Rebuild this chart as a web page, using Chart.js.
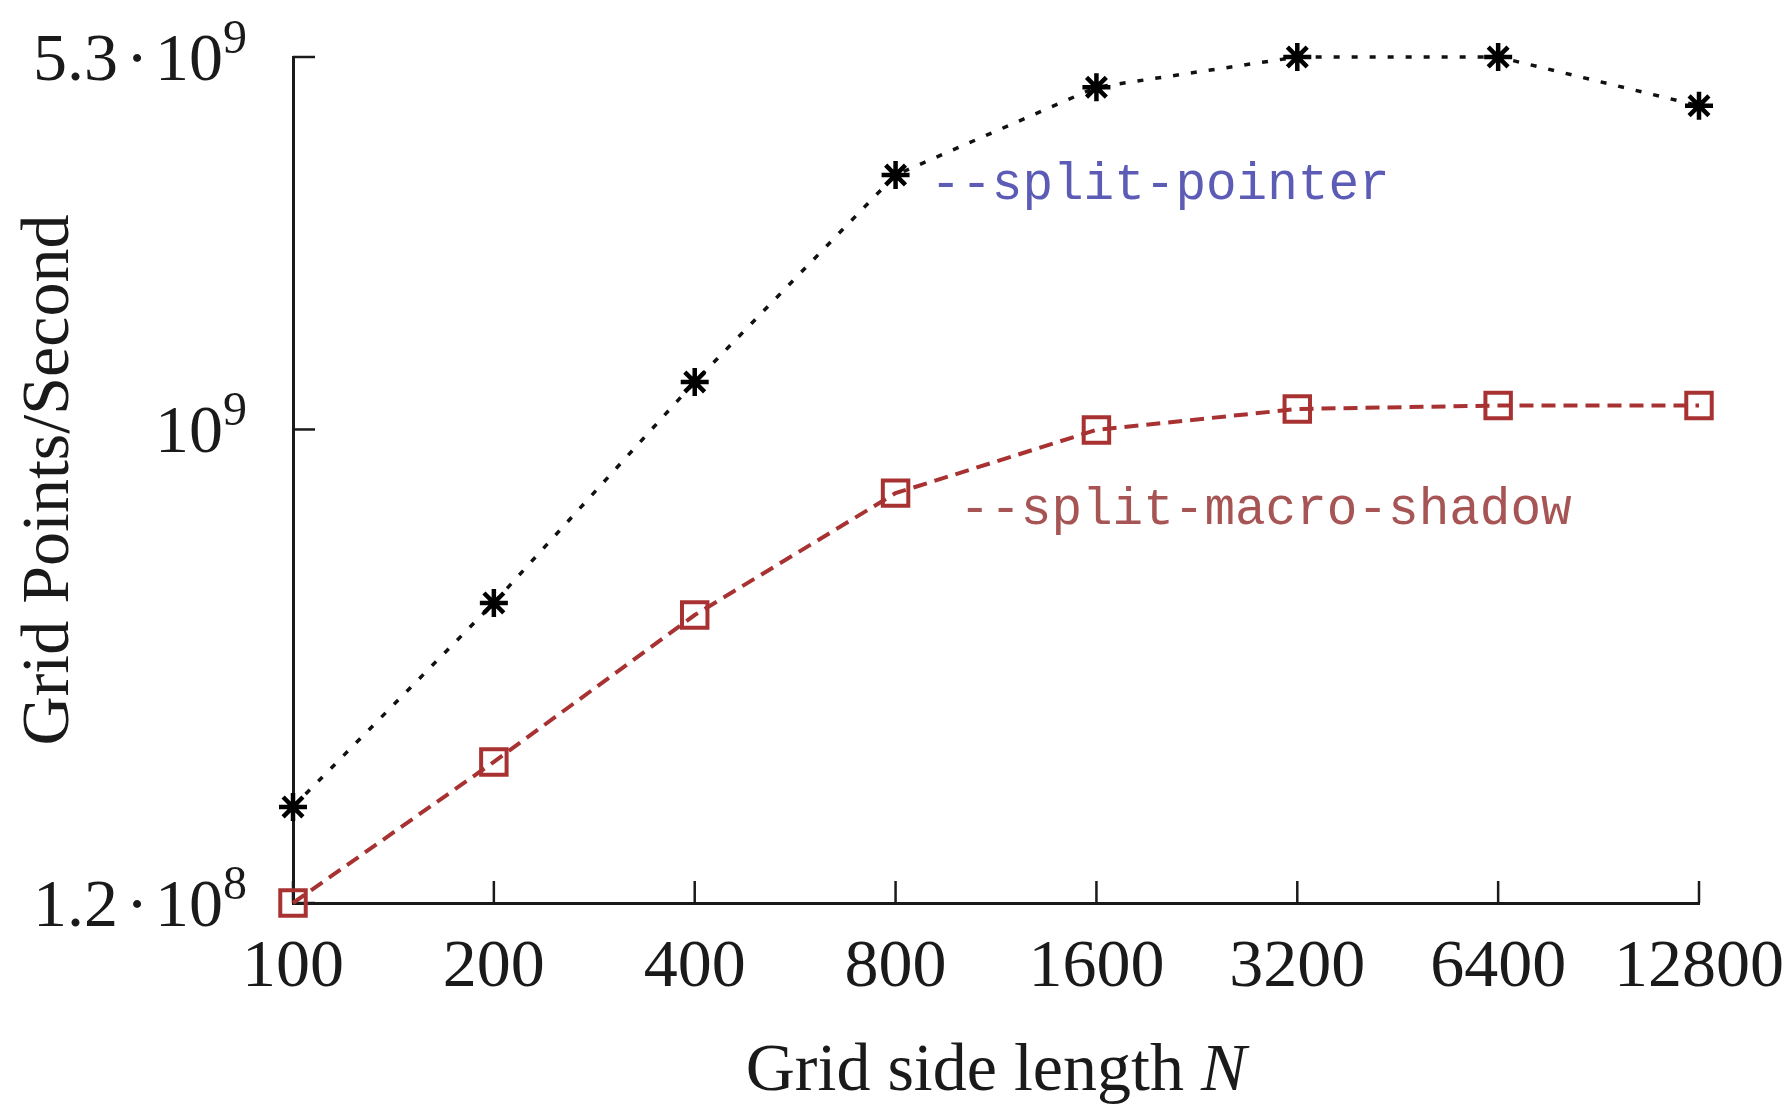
<!DOCTYPE html>
<html>
<head>
<meta charset="utf-8">
<title>Grid Points/Second</title>
<script src="https://cdn.jsdelivr.net/npm/chart.js@4.4.1/dist/chart.umd.min.js"></script>
<style>
    html, body { margin: 0; padding: 0; background: #fff; }
    canvas { display: block; }
</style>
</head>
<body>
<canvas id="chart_gps" width="1790" height="1106"></canvas>
<script>
const GRID_SIZES = ['100', '200', '400', '800', '1600', '3200', '6400', '12800'];
const SPLIT_POINTER = [1.845e8, 4.60e8, 1.237e9, 3.125e9, 4.63e9, 5.3e9, 5.3e9, 4.26e9];
const SPLIT_MACRO_SHADOW = [1.2e8, 2.257e8, 4.357e8, 7.52e8, 9.98e8, 1.096e9, 1.113e9, 1.113e9];
const Y_TICKS = [1.2e8, 1e9, 5.3e9];
const Y_TICK_MANTISSA = ['1.2', '', '5.3'];
const Y_TICK_EXPONENT = ['8', '9', '9'];

const SERIF = '"Liberation Serif", "Times New Roman", serif';
const MONO = '"Liberation Mono", "DejaVu Sans Mono", monospace';
const INK = '#1a1a1a';

function strokeLine(ctx, x1, y1, x2, y2) {
    ctx.beginPath();
    ctx.moveTo(x1, y1);
    ctx.lineTo(x2, y2);
    ctx.stroke();
}

// gnuplot style: inward ticks, superscript y labels, titles and the in-plot series labels
var gnuplotDecor = {
    id: 'gnuplotDecor',
    beforeDatasetsDraw(chart) {
        var ctx = chart.ctx;
        var xs = chart.scales.x;
        var ys = chart.scales.y;
        var area = chart.chartArea;
        ctx.save();
        ctx.strokeStyle = INK;
        ctx.lineWidth = 2.5;
        xs.ticks.forEach(function (t, i) {
            var px = xs.getPixelForTick(i);
            strokeLine(ctx, px, area.bottom, px, area.bottom - 22);
        });
        ys.ticks.forEach(function (t) {
            var py = ys.getPixelForValue(t.value);
            strokeLine(ctx, area.left, py, area.left + 22, py);
        });

        // y tick labels: mantissa, cdot, 10 and a raised exponent
        ctx.fillStyle = INK;
        ctx.textBaseline = 'alphabetic';
        var right = area.left - 46;
        Y_TICKS.forEach(function (v, i) {
            var py = ys.getPixelForValue(v);
            var base = py + 23;
            ctx.textAlign = 'right';
            ctx.font = '48px ' + SERIF;
            var supW = ctx.measureText(Y_TICK_EXPONENT[i]).width;
            ctx.fillText(Y_TICK_EXPONENT[i], right, py - 4);
            ctx.font = '68px ' + SERIF;
            var tenRight = right - supW;
            ctx.fillText('10', tenRight, base);
            if (Y_TICK_MANTISSA[i]) {
                var tenLeft = tenRight - ctx.measureText('10').width;
                var dotX = tenLeft - 18;
                ctx.textAlign = 'center';
                ctx.fillText('\u00B7', dotX, base);
                ctx.textAlign = 'right';
                ctx.fillText(Y_TICK_MANTISSA[i], dotX - 19, base);
            }
        });

        // x title, N in italics
        var part1 = 'Grid side length ';
        ctx.font = '68px ' + SERIF;
        var w1 = ctx.measureText(part1).width;
        ctx.font = 'italic 68px ' + SERIF;
        var w2 = ctx.measureText('N').width;
        var startX = (area.left + area.right) / 2 - (w1 + w2) / 2;
        ctx.textAlign = 'left';
        ctx.font = '68px ' + SERIF;
        ctx.fillText(part1, startX, 1090);
        ctx.font = 'italic 68px ' + SERIF;
        ctx.fillText('N', startX + w1, 1090);

        // y title
        ctx.save();
        ctx.translate(68, (area.top + area.bottom) / 2);
        ctx.rotate(-Math.PI / 2);
        ctx.textAlign = 'center';
        ctx.font = '68px ' + SERIF;
        ctx.fillText('Grid Points/Second', 0, 0);
        ctx.restore();

        // series labels next to the 800 points
        ctx.textAlign = 'left';
        ctx.font = '51px ' + MONO;
        ctx.fillStyle = '#5c5cb6';
        ctx.fillText('--split-pointer', xs.getPixelForValue(3) + 35, ys.getPixelForValue(SPLIT_POINTER[3]) + 24);
        ctx.fillStyle = '#a65454';
        ctx.fillText('--split-macro-shadow', xs.getPixelForValue(3) + 64, ys.getPixelForValue(SPLIT_MACRO_SHADOW[3]) + 31);
        ctx.restore();
    }
};

var ctx = document.getElementById('chart_gps');
var gpsChart = new Chart(ctx, {
    type: 'line',
    data: {
        labels: GRID_SIZES,
        datasets: [
            {
                label: '--split-pointer',
                data: SPLIT_POINTER,
                borderColor: '#111',
                borderWidth: 3.5,
                borderDash: [6, 12],
                pointStyle: 'star',
                pointRadius: 14,
                pointBorderWidth: 4.5,
                pointBorderColor: '#000',
                pointBackgroundColor: '#000',
                tension: 0,
                clip: false
            },
            {
                label: '--split-macro-shadow',
                data: SPLIT_MACRO_SHADOW,
                borderColor: '#a83232',
                borderWidth: 4,
                borderDash: [14, 8],
                pointStyle: 'rect',
                pointRadius: 18,
                pointBorderWidth: 4,
                pointBorderColor: '#a83232',
                pointBackgroundColor: 'rgba(0,0,0,0)',
                tension: 0,
                clip: false
            }
        ]
    },
    options: {
        responsive: false,
        animation: false,
        events: [],
        layout: { padding: { top: 57, right: 91, left: 0, bottom: 0 } },
        plugins: {
            legend: { display: false },
            tooltip: { enabled: false }
        },
        scales: {
            x: {
                type: 'category',
                offset: false,
                grid: { display: true, drawOnChartArea: false, drawTicks: false },
                border: { display: true, color: INK, width: 3 },
                ticks: {
                    autoSkip: false,
                    maxRotation: 0,
                    padding: 24,
                    color: INK,
                    font: { family: SERIF, size: 68 }
                },
                afterFit: function (scale) {
                    scale.height = 203;
                    scale.paddingLeft = 0;
                    scale.paddingRight = 0;
                }
            },
            y: {
                type: 'logarithmic',
                min: 1.2e8,
                max: 5.3e9,
                grid: { display: true, drawOnChartArea: false, drawTicks: false },
                border: { display: true, color: INK, width: 3 },
                ticks: { display: false },
                afterBuildTicks: function (scale) {
                    scale.ticks = Y_TICKS.map(function (v) { return { value: v }; });
                },
                afterFit: function (scale) { scale.width = 293; }
            }
        }
    },
    plugins: [gnuplotDecor]
});
</script>
</body>
</html>
